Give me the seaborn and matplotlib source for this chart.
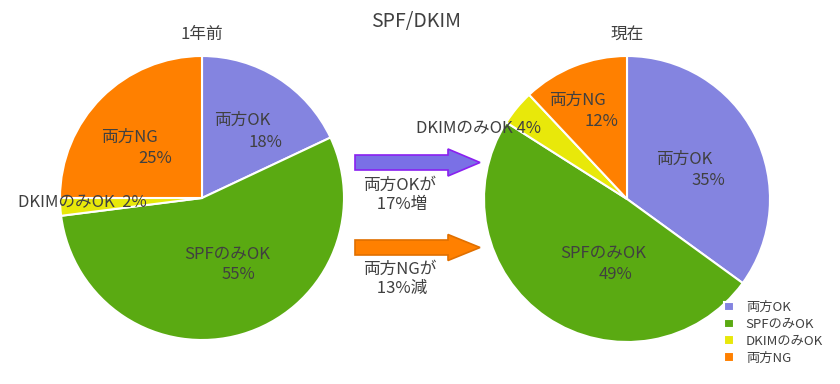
import numpy as np
import matplotlib
matplotlib.use("Agg")
import matplotlib.pyplot as plt
import matplotlib.patches as mpatches
import seaborn as sns

# ---------- data ----------
categories = ["両方OK", "SPFのみOK", "DKIMのみOK", "両方NG"]
before_pct = [18, 55, 2, 25]
now_pct = [35, 49, 4, 12]
title = "SPF/DKIM"
before_title = "1年前"
now_title = "現在"
ok_change = "両方OKが\n 17%増"
ng_change = "両方NGが\n 13%減"

colors = ["#8484e0", "#5aaa12", "#e8e80a", "#ff8000"]
text_col = "#404040"

# label placement in pie units (radius = 1): name position, percent position
# None for percent -> single-line label "name pct%"
before_pos = [((0.28, 0.55), (0.45, 0.39)),
              ((0.18, -0.40), (0.26, -0.54)),
              ((-0.84, -0.03), None),
              ((-0.51, 0.43), (-0.33, 0.28))]
now_pos = [((0.40, 0.28), (0.57, 0.13)),
           ((-0.17, -0.38), (-0.08, -0.53)),
           ((-1.04, 0.49), None),
           ((-0.35, 0.69), (-0.18, 0.54))]

sns.set_theme(style="white")
plt.rcParams["font.family"] = ["Noto Sans CJK JP", "DejaVu Sans"]

W, H = 840, 384
fig = plt.figure(figsize=(W / 100, H / 100), dpi=100)
LABEL_FS = 12


def pie_axes(cx, cy, r):
    return fig.add_axes([(cx - r) / W, 1 - (cy + r) / H, 2 * r / W, 2 * r / H])


def draw_pie(ax, values, positions, sub, sep):
    wedges, _ = ax.pie(values, colors=colors, startangle=90, counterclock=False,
                       wedgeprops=dict(edgecolor="white", linewidth=1.5))
    ax.set_xlim(-1, 1)
    ax.set_ylim(-1, 1)
    ax.set_aspect("equal")
    ax.axis("off")
    for i, (name_xy, pct_xy) in enumerate(positions):
        if pct_xy is None:
            ax.text(*name_xy, f"{categories[i]}{sep}{values[i]}%", ha="center", va="center",
                    fontsize=LABEL_FS, color=text_col)
        else:
            ax.text(*name_xy, categories[i], ha="center", va="center",
                    fontsize=LABEL_FS, color=text_col)
            ax.text(*pct_xy, f"{values[i]}%", ha="center", va="center",
                    fontsize=LABEL_FS, color=text_col)
    ax.text(0, 1.15, sub, ha="center", va="center", fontsize=12, color=text_col)
    return wedges


ax1 = pie_axes(202, 198, 142)
wedges = draw_pie(ax1, before_pct, before_pos, before_title, "  ")

ax2 = pie_axes(627, 199, 143)
draw_pie(ax2, now_pct, now_pos, now_title, " ")

# overlay in pixel coordinates for arrows and the main title
ov = fig.add_axes([0, 0, 1, 1], zorder=-1)
ov.set_xlim(0, W)
ov.set_ylim(H, 0)
ov.axis("off")
ov.text(416, 22, title, ha="center", va="center", fontsize=14, color=text_col)

ov.add_patch(mpatches.FancyArrow(355, 162.5, 93, 0, width=15, head_width=27,
                                 head_length=32, length_includes_head=False,
                                 facecolor="#7a70e6", edgecolor="#8a20f0", linewidth=1.2))
ov.add_patch(mpatches.FancyArrow(355, 247.5, 93, 0, width=15, head_width=26,
                                 head_length=32, length_includes_head=False,
                                 facecolor="#ff8000", edgecolor="#e07000", linewidth=1.2))
ov.text(400, 195, ok_change, ha="center", va="center", fontsize=12,
        color=text_col, linespacing=1.15)
ov.text(400, 279, ng_change, ha="center", va="center", fontsize=12,
        color=text_col, linespacing=1.15)

fig.legend(wedges, categories, loc="upper left", bbox_to_anchor=(724 / W, 1 - 301 / H),
           frameon=False, fontsize=9.5, handlelength=0.75, handleheight=0.75,
           handletextpad=0.9, labelspacing=0.3, labelcolor=text_col,
           borderaxespad=0, borderpad=0)

fig.savefig("out.png", dpi=100)
